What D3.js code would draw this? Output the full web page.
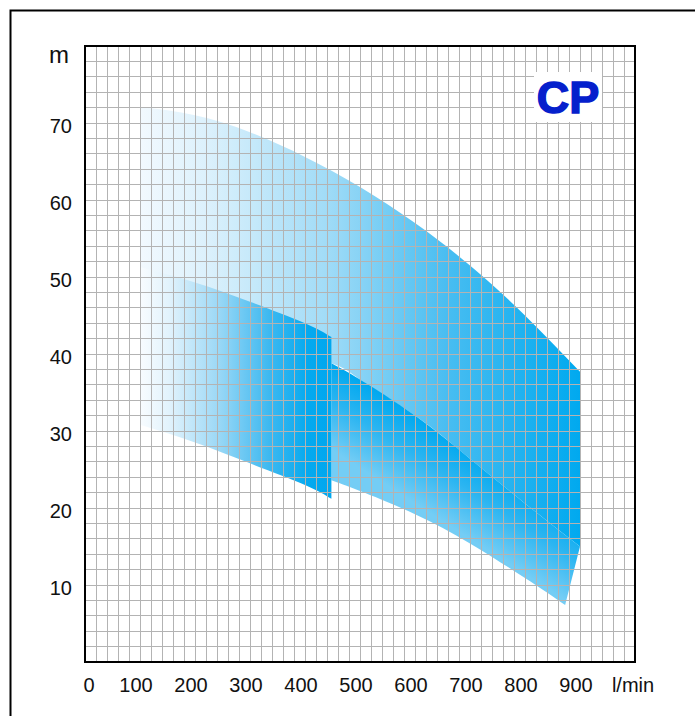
<!DOCTYPE html>
<html>
<head>
<meta charset="utf-8">
<script src="https://cdn.jsdelivr.net/npm/d3@7"></script>
<style>
  body { margin: 0; background: #fff; }
  text { font-family: 'Liberation Sans', Arial, sans-serif; }
</style>
</head>
<body>
<svg id="chart" width="695" height="716"></svg>
<script>
// flow in l/min, head in m
const xTickValues = [0, 100, 200, 300, 400, 500, 600, 700, 800, 900, 1000];
const xTickLabels = ['0', '100', '200', '300', '400', '500', '600', '700', '800', '900', 'l/min'];
const yTickValues = [10, 20, 30, 40, 50, 60, 70];

// big band, 100 - 900 l/min
const bigTop = [[100, 72.1], [200, 71], [300, 68.8], [400, 65.6], [500, 61.7], [600, 57], [700, 51.5], [800, 45], [900, 37.7]];
const bigBottom = [[900, 15], [800, 20.6], [700, 26.4], [600, 32], [500, 36.7], [448, 38.8], [300, 42], [100, 46]];

// small band, 100 - 450 l/min
const smallTop = [[100, 51.3], [200, 49.3], [300, 46.8], [400, 44], [448, 42.2]];
const smallBottom = [[448, 21.2], [400, 23], [300, 25.8], [200, 28.5], [100, 30.8]];

// middle band, 450 - 900 l/min
const midTop = [[448, 38.8], [500, 36.7], [600, 32], [700, 26.4], [800, 20.6], [900, 15]];
const midBottom = [[873, 7.4], [800, 10.9], [700, 15.4], [600, 19.2], [500, 22.2], [448, 23.6]];

const svg = d3.select('#chart');
const x = d3.scaleLinear().domain([0, 1000]).range([85, 635]);
const y = d3.scaleLinear().domain([0, 80]).range([662, 46]);

// outer frame (runs off the page on the right and bottom)
svg.append('rect')
  .attr('x', 10.5).attr('y', 10.5)
  .attr('width', 720).attr('height', 730)
  .attr('fill', '#fff')
  .attr('stroke', '#000')
  .attr('stroke-width', 2);

const defs = svg.append('defs');

function gradient (id, stops, x1, y1, x2, y2) {
  let g = defs.append('linearGradient')
    .attr('id', id)
    .attr('gradientUnits', 'userSpaceOnUse')
    .attr('x1', x1).attr('y1', y1)
    .attr('x2', x2).attr('y2', y2);
  stops.forEach(function (s) {
    g.append('stop').attr('offset', s[0]).attr('stop-color', s[1]);
  });
}

gradient('gBig', [[0, '#f2f9fe'], [0.15, '#dcf1fc'], [0.42, '#a2dcf7'], [0.7, '#48bdf1'], [1, '#00a9ef']],
  x(100), 0, x(900), 0);
gradient('gSmall', [[0, '#f8fcff'], [0.15, '#e2f3fc'], [0.4, '#9ed9f6'], [0.68, '#3cb8f0'], [0.88, '#05a9ef'], [1, '#00a7ee']],
  x(100), 0, x(448), 0);
gradient('gMid', [[0, '#00a8ef'], [0.45, '#2cb5f1'], [1, '#74cdf5']],
  x(600), y(32), x(600) - 40, y(32) + 62);

const line = d3.line()
  .x(function (d) { return x(d[0]); })
  .y(function (d) { return y(d[1]); })
  .curve(d3.curveNatural);

function band (top, bottom) {
  return line(top) + line(bottom).replace(/^M/, 'L') + 'Z';
}

const bands = svg.append('g');
bands.append('path').attr('d', band(bigTop, bigBottom)).attr('fill', 'url(#gBig)');
bands.append('path').attr('d', band(midTop, midBottom)).attr('fill', 'url(#gMid)');
bands.append('path').attr('d', band(smallTop, smallBottom)).attr('fill', 'url(#gSmall)');

// grid on top of the bands
const grid = svg.append('g')
  .attr('stroke', '#b3b3b3')
  .attr('stroke-width', 1)
  .attr('shape-rendering', 'crispEdges');

grid.selectAll('line.v')
  .data(d3.range(20, 1000, 20))
  .enter().append('line')
  .attr('class', 'v')
  .attr('x1', function (d) { return x(d); })
  .attr('x2', function (d) { return x(d); })
  .attr('y1', y(0)).attr('y2', y(80));

grid.selectAll('line.h')
  .data(d3.range(2, 80, 2))
  .enter().append('line')
  .attr('class', 'h')
  .attr('x1', x(0)).attr('x2', x(1000))
  .attr('y1', function (d) { return y(d); })
  .attr('y2', function (d) { return y(d); });

// plot box
svg.append('rect')
  .attr('x', x(0)).attr('y', y(80))
  .attr('width', x(1000) - x(0))
  .attr('height', y(0) - y(80))
  .attr('fill', 'none')
  .attr('stroke', '#000')
  .attr('stroke-width', 2);

// tick labels
svg.append('g').selectAll('text')
  .data(xTickValues)
  .enter().append('text')
  .attr('x', function (d, i) {
    if (i === 0) return x(d) + 4;
    return x(d) - (i === xTickValues.length - 1 ? 2 : 4);
  })
  .attr('y', 692)
  .attr('text-anchor', 'middle')
  .attr('font-size', 20)
  .attr('fill', '#111')
  .text(function (d, i) { return xTickLabels[i]; });

svg.append('g').selectAll('text')
  .data(yTickValues)
  .enter().append('text')
  .attr('x', 72)
  .attr('y', function (d) { return y(d) + 10; })
  .attr('text-anchor', 'end')
  .attr('font-size', 20)
  .attr('fill', '#111')
  .text(function (d) { return d; });

svg.append('text')
  .attr('x', 69).attr('y', 63)
  .attr('text-anchor', 'end')
  .attr('font-size', 24)
  .attr('fill', '#111')
  .text('m');

// model label
svg.append('rect')
  .attr('x', 534).attr('y', 72)
  .attr('width', 68).attr('height', 50)
  .attr('fill', '#fff');

svg.append('text')
  .attr('x', 568).attr('y', 113)
  .attr('text-anchor', 'middle')
  .attr('font-size', 45)
  .attr('font-weight', 'bold')
  .attr('fill', '#0520cc')
  .attr('stroke', '#0520cc')
  .attr('stroke-width', 1.5)
  .text('CP');
</script>
</body>
</html>
